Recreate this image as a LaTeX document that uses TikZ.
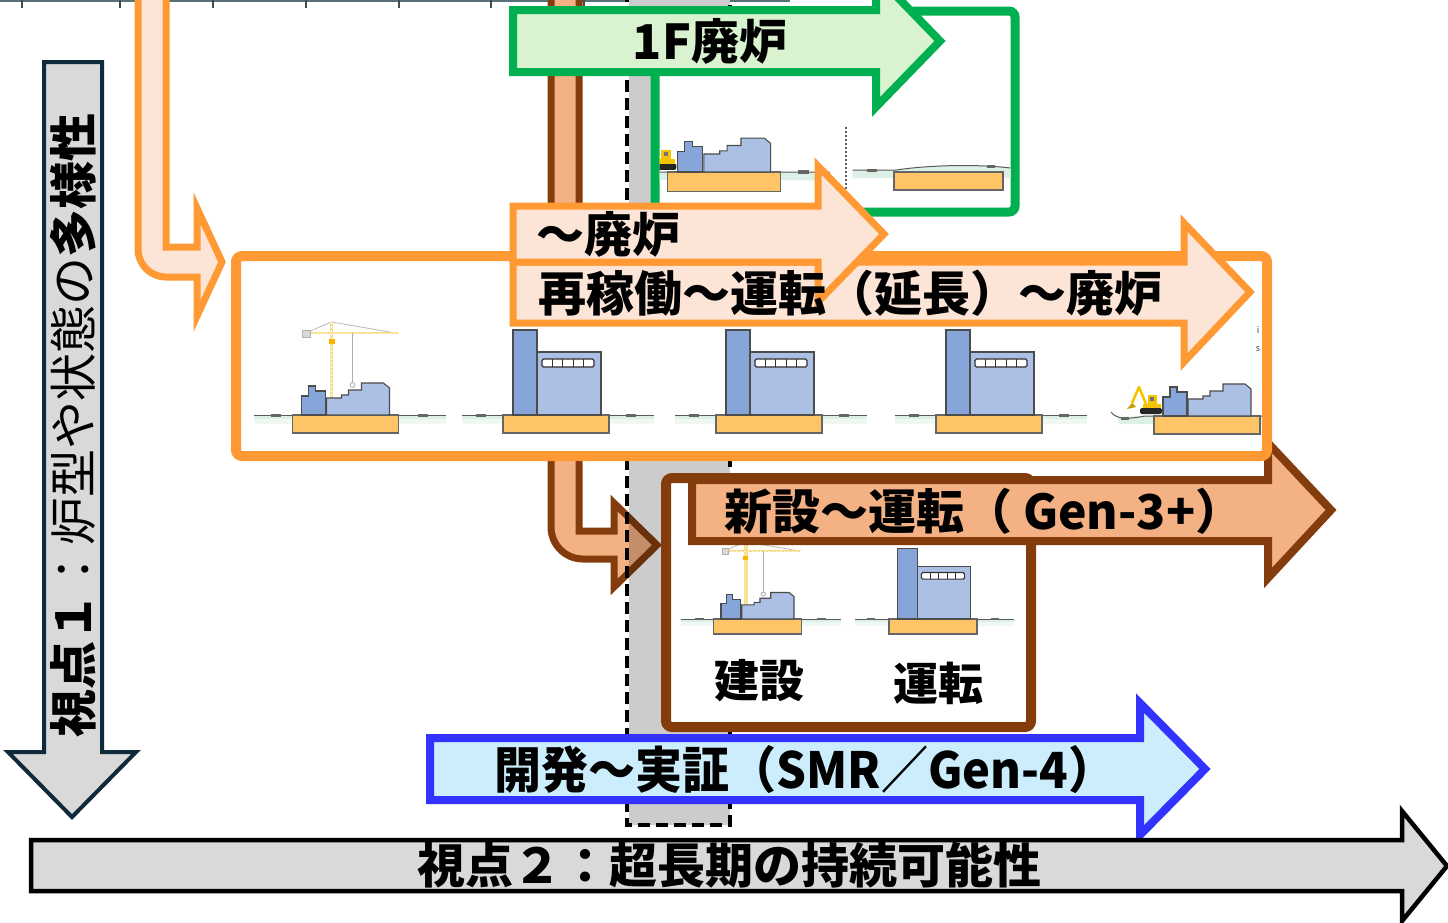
\documentclass[tikz,border=0pt]{standalone}
\usepackage{fontspec}
\setmainfont{Noto Sans CJK JP}
\definecolor{peach}{HTML}{FCE4D6}
\definecolor{orng}{HTML}{FF9933}
\definecolor{salmon}{HTML}{F4B183}
\definecolor{brwn}{HTML}{843C0C}
\definecolor{grn}{HTML}{00B050}
\definecolor{grnfill}{HTML}{D9F2D0}
\definecolor{blu}{HTML}{3333FF}
\definecolor{blufill}{HTML}{CCEEFC}
\definecolor{greyfill}{HTML}{D9D9D9}
\definecolor{navy}{HTML}{0E2A3B}
\definecolor{band}{HTML}{CCCCCC}
\definecolor{towerblue}{HTML}{86A5D8}
\definecolor{blockblue}{HTML}{ABC0E4}
\definecolor{fdncol}{HTML}{FFC465}
\definecolor{groundgreen}{HTML}{DDF0E6}
\definecolor{cranecol}{HTML}{F6E08E}
\definecolor{exyellow}{HTML}{F5C400}
\definecolor{rulerc}{HTML}{5A7078}

% ground line with a pale green strip below it
\newcommand\groundstrip[2]{%
  \fill[groundgreen] (#1,0) rectangle (#2,4);
  \fill[groundgreen!45] (#1,4) rectangle (#2,9);
  \draw[black!65, line width=1] (#1,0) -- (#2,0);
}
% damaged reactor building on its foundation
\newcommand\ruinbldg{%
  \draw[fdnst] (-53,0) rectangle (53,18);
  \draw[towerst] (-44,0) -- (-44,-19) -- (-37,-19) -- (-37,-29) -- (-30,-29) -- (-30,-24) -- (-20,-24) -- (-20,0) -- cycle;
  \draw[blockst] (-19,0) -- (-19,-17) -- (-4,-17) -- (-4,-20) -- (3,-20) -- (3,-25) -- (16,-25) -- (16,-32) -- (38,-32) -- (44,-27) -- (44,0) -- cycle;
}

\tikzset{
  banner/.style={font=\fontsize{48}{52}\selectfont\bfseries, inner sep=0pt, text=black},
  towerst/.style={fill=towerblue, draw=black!70, line width=1.1},
  blockst/.style={fill=blockblue, draw=black!70, line width=1.1},
  fdnst/.style={fill=fdncol, draw=black!60, line width=1.1},
  winst/.style={fill=white, draw=black!80, line width=1.1, rounded corners=1.5},
  tuft/.style={fill=black!60},
  pics/plant/.style={code={
    \groundstrip{-94}{98}
    \fill[tuft] (-80,-1.5) rectangle (-70,1.5);
    \fill[tuft] (70,-1.5) rectangle (80,1.5);
    \draw[fdnst] (-53,0) rectangle (53,18);
    \draw[towerst] (-43,-85) rectangle (-19,0);
    \draw[blockst] (-19,-63) rectangle (45,0);
    \draw[winst] (-14,-56) rectangle (38,-48);
    \foreach \k in {1,...,4} {\draw[black!80, line width=0.9] ({-14+10.4*\k},-56) -- ({-14+10.4*\k},-48);}
  }},
  pics/construction/.style={code={
    \groundstrip{-92}{100}
    \fill[tuft] (-75,-1.5) rectangle (-65,1.5);
    \fill[tuft] (72,-1.5) rectangle (82,1.5);
    % tower crane
    \draw[gray!55, line width=0.8] (-40,-82) -- (-14,-93) -- (50,-82);
    \draw[cranecol, line width=3.5] (-14,-93) -- (-14,-17);
    \draw[white, line width=0.8, dash pattern=on 1.5pt off 2.5pt] (-14,-93) -- (-14,-17);
    \draw[cranecol, line width=2.5] (-36,-82) -- (52,-82);
    \draw[white, line width=0.6, dash pattern=on 1.5pt off 2.5pt] (-36,-82) -- (52,-82);
    \fill[gray!30, draw=gray!60, line width=0.6] (-43,-85) rectangle (-35,-78);
    \draw[gray!65, line width=0.8] (7,-82) -- (7,-33);
    \draw[gray!65, line width=0.8] (7,-30) circle (2.5);
    \fill[orange!60!yellow] (-17,-76) rectangle (-11,-71);
    \ruinbldg
  }},
  pics/decommission/.style={code={
    \fill[groundgreen] (-90,1) -- (-62,0) -- (100,0) -- (100,8) -- (-88,8) -- cycle;
    \draw[black!65, line width=1] (-96,-4) .. controls (-90,4) and (-78,3) .. (-62,0) -- (100,0);
    \fill[tuft] (-86,1) rectangle (-78,3.5);
    \fill[tuft] (70,-1.5) rectangle (80,1.5);
    % excavator
    \fill[black!85, rounded corners=2] (-67,-8) rectangle (-45,-2);
    \fill[exyellow] (-64,-12) rectangle (-46,-8);
    \fill[exyellow] (-59,-21) rectangle (-50,-12);
    \fill[black!55] (-57,-19) rectangle (-53,-15);
    \draw[exyellow, line width=2.6, line join=round] (-61,-12) -- (-68,-29) -- (-75,-13);
    \fill[exyellow!80!black] (-75,-13) -- (-80,-7) -- (-71,-9) -- cycle;
    \ruinbldg
  }},
  pics/flat/.style={code={
    \fill[groundgreen] (-96,-2) -- (-52,-2) .. controls (-20,-7) and (30,-8) .. (62,-4) -- (62,6) -- (-96,6) -- cycle;
    \draw[black!65, line width=1] (-96,-2) -- (-52,-2) .. controls (-20,-7) and (30,-8) .. (62,-4);
    \fill[tuft] (-82,-3.5) rectangle (-72,-0.5);
    \fill[tuft] (38,-7.5) rectangle (46,-4.5);
    \draw[fdnst] (-54.5,0) rectangle (54.5,18);
  }},
}

\begin{document}
\begin{tikzpicture}[x=1pt,y=-1pt]
\useasboundingbox (0,0) rectangle (1448,922);
\clip (0,0) rectangle (1448,922);

% scale line along the top edge
\draw[rulerc, line width=2.5] (0,1) -- (790,1);
\foreach \t in {22,120,213,306,399,491,584,677}
  \draw[rulerc!70!black, line width=2.5] (\t,0) -- (\t,8);

% bent arrow coming down on the left
\draw[fill=peach, draw=orng, line width=7, line join=miter]
  (166,-10) -- (166,247) -- (197,247) -- (197,208) -- (222,262) -- (197,316) -- (197,277)
  -- (166,277) .. controls (150.5,277) and (138,264.5) .. (138,249) -- (138,-10) -- cycle;

% bent arrow into the new-build box
\def\brownbent{(579,-10) -- (579,531) -- (614,531) -- (614,503) -- (657,545) -- (614,587) -- (614,559)
  -- (583,559) .. controls (565.3,559) and (551,544.7) .. (551,527) -- (551,-10) -- cycle}
\draw[fill=salmon, draw=brwn, line width=7, line join=miter] \brownbent;

% shaded time band with dashed frame
\fill[band] (629,-10) rectangle (730,825);
\begin{scope}
  \clip (629,-10) rectangle (730,825);
  \draw[fill=salmon!80!black, draw=brwn!80!black, line width=7, line join=miter] \brownbent;
\end{scope}
\draw[black, line width=4, dash pattern=on 12pt off 6pt] (627,-10) -- (627,825) -- (730,825) -- (730,-10);

% ---- 1F decommissioning group
\draw[fill=white, draw=grn, line width=9, rounded corners=6] (655,11) rectangle (1015,212);
\begin{scope}
  \clip (659.5,15.5) rectangle (1010.5,207.5);
  \pic[scale=1.06] at (724,172) {decommission};
  \draw[black!65, line width=2, dash pattern=on 2pt off 2pt] (846,127) -- (846,193);
  \pic at (948.5,172) {flat};
\end{scope}
\draw[fill=grnfill, draw=grn, line width=8, line join=miter]
  (513,10) -- (876,10) -- (876,-25) -- (940,41) -- (876,107) -- (876,72) -- (513,72) -- cycle;
\node[banner, anchor=base] (t1f) at (710,59) {1F廃炉};

% ---- new build group
\draw[fill=white, draw=brwn, line width=10, rounded corners=6] (666,478) rectangle (1031,727);
\pic[scale=0.83] at (757.5,619) {construction};
\pic[scale=0.83] at (933,619) {plant};
\node[font=\fontsize{45}{48}\selectfont\bfseries, inner sep=0pt, anchor=base] (tbuild) at (759,697) {建設};
\node[font=\fontsize{45}{48}\selectfont\bfseries, inner sep=0pt, anchor=base] (toper) at (938,700) {運転};
\draw[fill=salmon, draw=brwn, line width=8, line join=miter]
  (692,480) -- (1268,480) -- (1268,443) -- (1331,510) -- (1268,578) -- (1268,541) -- (692,541) -- cycle;
\node[banner, anchor=base west] (tnew) at (724,529) {新設～運転（ Gen-3+）};

% ---- existing reactors group
\draw[fill=white, draw=orng, line width=10, rounded corners=6] (236,256) rectangle (1267,456);
\begin{scope}
  \clip (241,261) rectangle (1262,451);
  \pic at (345.5,415) {construction};
  \pic at (556,415) {plant};
  \pic at (769,415) {plant};
  \pic at (989,415) {plant};
  \pic at (1207,416) {decommission};
\end{scope}
\node[font=\fontsize{9}{10}\selectfont, text=black!75, inner sep=0pt] (tsi) at (1258,330) {i};
\node[font=\fontsize{9}{10}\selectfont, text=black!75, inner sep=0pt] (tss) at (1258,349) {s};
\draw[fill=peach, draw=orng, line width=7, line join=miter]
  (513,262) -- (1184,262) -- (1184,223) -- (1250,292) -- (1184,362) -- (1184,323) -- (513,323) -- cycle;
\draw[fill=peach, draw=orng, line width=7, line join=miter]
  (513,206) -- (818,206) -- (818,166) -- (884,234) -- (818,302) -- (818,262) -- (513,262) -- cycle;
\node[banner, anchor=base west] (tdecom) at (536,252) {～廃炉};
\node[banner, anchor=base west] (trestart) at (538,311) {再稼働～運転（延長）～廃炉};

% ---- development group
\draw[fill=blufill, draw=blu, line width=8, line join=miter]
  (430,738) -- (1140,738) -- (1140,703) -- (1205,769) -- (1140,835) -- (1140,800) -- (430,800) -- cycle;
\node[banner, font=\fontsize{47}{50}\selectfont\bfseries, anchor=base, yscale=1.06] (tdev) at (805,788) {開発～実証（SMR／Gen-4）};

% ---- viewpoint axes
\draw[fill=greyfill, draw=navy, line width=4, line join=miter]
  (44,62) -- (102,62) -- (102,752) -- (136,752) -- (72,817) -- (8,752) -- (44,752) -- cycle;
\node[font=\fontsize{48}{52}\selectfont, inner sep=0pt, rotate=90, anchor=base] (tview1) at (91,425)
  {\textbf{視点１}：炉型や状態の\textbf{多様性}};
\draw[fill=greyfill, draw=black, line width=4.5, line join=miter]
  (31,840) -- (1402,840) -- (1402,811) -- (1447,866) -- (1402,921) -- (1402,891) -- (31,891) -- cycle;
\node[banner, anchor=base] (tview2) at (729,883) {視点２：超長期の持続可能性};
\end{tikzpicture}
\end{document}
